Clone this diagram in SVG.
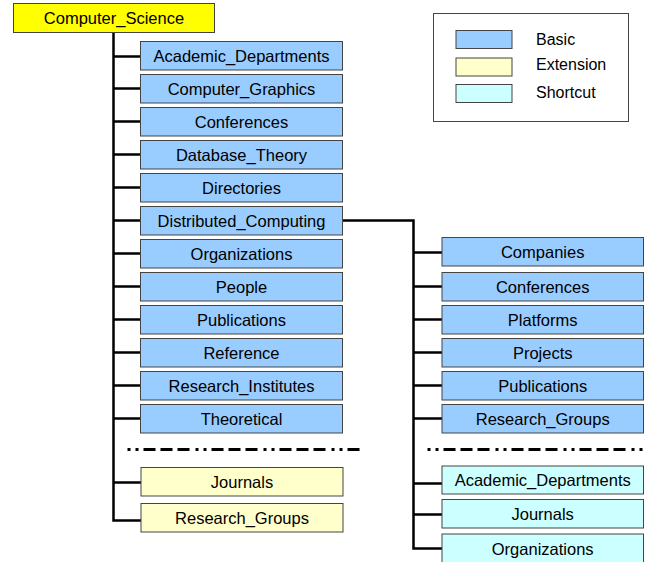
<svg xmlns="http://www.w3.org/2000/svg" width="647" height="562" viewBox="0 0 647 562">
<style>
.box{stroke:#444;stroke-width:1}
.basic{fill:#99CCFF}
.ext{fill:#FFFFCC}
.short{fill:#CCFFFF}
.root{fill:#FFFF00}
text{font-family:"Liberation Sans",Arial,sans-serif;font-size:16.5px;fill:#000;text-anchor:middle}
.leg{font-size:16px;text-anchor:start}
.con{stroke:#000;stroke-width:2.5;fill:none}
.sep{stroke:#000;stroke-width:3;fill:none;stroke-dasharray:3 5 3 5 12 5 12 5 12 6}
</style>
<rect width="647" height="562" fill="#fff"/>
<g id="connectors">
<path class="con" d="M113.5 32.5V520.5H141"/>
<path class="con" d="M113.5 56.5H140.5M113.5 88.5H140.5M113.5 121.5H140.5M113.5 154.5H140.5M113.5 187.5H140.5M113.5 220.5H140.5M113.5 253.5H140.5M113.5 286.5H140.5M113.5 319.5H140.5M113.5 352.5H140.5M113.5 385.5H140.5M113.5 418.5H140.5M113.5 482.5H141"/>
<path class="con" d="M342.5 220.5H413.5V548.5H442"/>
<path class="con" d="M413.5 252.5H442M413.5 286.5H442M413.5 319.5H442M413.5 352.5H442M413.5 385.5H442M413.5 418.5H442M413.5 483.5H442M413.5 514.5H442"/>
<path class="sep" d="M127.5 449.5H360"/>
<path class="sep" d="M427.5 449.5H643"/>
</g>
<g id="legend">
<rect x="433.5" y="13.5" width="195" height="108" fill="#fff" stroke="#444" stroke-width="1"/>
<rect class="box basic" x="456" y="30.5" width="56" height="18"/>
<rect class="box ext" x="456" y="58" width="56" height="18"/>
<rect class="box short" x="456" y="84.5" width="56" height="18"/>
<text class="leg" x="536" y="45">Basic</text>
<text class="leg" x="536" y="70">Extension</text>
<text class="leg" x="536" y="98.3">Shortcut</text>
</g>
<g id="n_root"><rect class="box root" x="13.5" y="3.5" width="201" height="29"/><text x="114" y="24">Computer_Science</text></g>
<g id="n_l1"><rect class="box basic" x="140.5" y="41.5" width="202" height="28.5"/><text x="241.5" y="61.7">Academic_Departments</text></g>
<g id="n_l2"><rect class="box basic" x="140.5" y="74.5" width="202" height="28.5"/><text x="241.5" y="94.7">Computer_Graphics</text></g>
<g id="n_l3"><rect class="box basic" x="140.5" y="107.5" width="202" height="28.5"/><text x="241.5" y="127.7">Conferences</text></g>
<g id="n_l4"><rect class="box basic" x="140.5" y="140.5" width="202" height="28.5"/><text x="241.5" y="160.7">Database_Theory</text></g>
<g id="n_l5"><rect class="box basic" x="140.5" y="173.5" width="202" height="28.5"/><text x="241.5" y="193.7">Directories</text></g>
<g id="n_l6"><rect class="box basic" x="140.5" y="206.5" width="202" height="28.5"/><text x="241.5" y="226.7">Distributed_Computing</text></g>
<g id="n_l7"><rect class="box basic" x="140.5" y="239.5" width="202" height="28.5"/><text x="241.5" y="259.7">Organizations</text></g>
<g id="n_l8"><rect class="box basic" x="140.5" y="272.5" width="202" height="28.5"/><text x="241.5" y="292.7">People</text></g>
<g id="n_l9"><rect class="box basic" x="140.5" y="305.5" width="202" height="28.5"/><text x="241.5" y="325.7">Publications</text></g>
<g id="n_l10"><rect class="box basic" x="140.5" y="338.5" width="202" height="28.5"/><text x="241.5" y="358.7">Reference</text></g>
<g id="n_l11"><rect class="box basic" x="140.5" y="371.5" width="202" height="28.5"/><text x="241.5" y="391.7">Research_Institutes</text></g>
<g id="n_l12"><rect class="box basic" x="140.5" y="404.5" width="202" height="28.5"/><text x="241.5" y="424.7">Theoretical</text></g>
<g id="n_l13"><rect class="box ext" x="141" y="467.5" width="202" height="28.5"/><text x="242" y="487.7">Journals</text></g>
<g id="n_l14"><rect class="box ext" x="141" y="503.5" width="202" height="28.5"/><text x="242" y="523.7">Research_Groups</text></g>
<g id="n_r1"><rect class="box basic" x="442" y="237.5" width="201.5" height="28.5"/><text x="542.7" y="257.7">Companies</text></g>
<g id="n_r2"><rect class="box basic" x="442" y="272.5" width="201.5" height="28.5"/><text x="542.7" y="292.7">Conferences</text></g>
<g id="n_r3"><rect class="box basic" x="442" y="305.5" width="201.5" height="28.5"/><text x="542.7" y="325.7">Platforms</text></g>
<g id="n_r4"><rect class="box basic" x="442" y="338.5" width="201.5" height="28.5"/><text x="542.7" y="358.7">Projects</text></g>
<g id="n_r5"><rect class="box basic" x="442" y="371.5" width="201.5" height="28.5"/><text x="542.7" y="391.7">Publications</text></g>
<g id="n_r6"><rect class="box basic" x="442" y="404.5" width="201.5" height="28.5"/><text x="542.7" y="424.7">Research_Groups</text></g>
<g id="n_r7"><rect class="box short" x="442" y="466" width="201.5" height="28"/><text x="542.7" y="486">Academic_Departments</text></g>
<g id="n_r8"><rect class="box short" x="442" y="499.5" width="201.5" height="28.5"/><text x="542.7" y="519.7">Journals</text></g>
<g id="n_r9"><rect class="box short" x="442" y="534" width="201.5" height="30"/><text x="542.7" y="554.7">Organizations</text></g>
</svg>
